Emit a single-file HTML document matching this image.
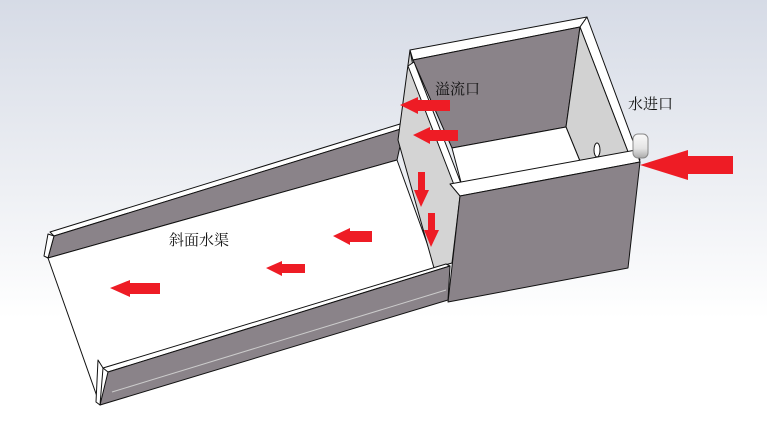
<!DOCTYPE html>
<html><head><meta charset="utf-8"><style>
html,body{margin:0;padding:0}
body{width:767px;height:425px;overflow:hidden;background:linear-gradient(180deg,#d6dbe6 0%,#eef0f4 45%,#ffffff 75%)}
svg{position:absolute;left:0;top:0}
text{font-family:"Liberation Serif","Noto Serif CJK SC",serif;font-size:15px;fill:#111}
</style></head><body>
<svg width="767" height="425" viewBox="0 0 767 425">
<defs><linearGradient id="p" x1="0" y1="0" x2="0" y2="1"><stop offset="0" stop-color="#fafafa"/><stop offset="0.6" stop-color="#e4e4e4"/><stop offset="1" stop-color="#aaa"/></linearGradient></defs>
<g stroke="#111" stroke-width="1" stroke-linejoin="round">
<polygon points="50,232 400,124 404,128 54,236" fill="#fff"/>
<polygon points="54,236 404,128 397,160 48,258" fill="#8a8389"/>
<polygon points="48,234 54,236 48,258 44,256" fill="#fff"/>
<polygon points="48,258 397,160 436,268 100,405" fill="#fff"/>
<polygon points="410,50 398,140 434,268 452,263 460,196 413,66" fill="#d4d4d4"/>
<polygon points="410,50 587,17 580,27 413,60" fill="#fff"/>
<polygon points="413,60 580,27 566,127 452,148" fill="#8a8389"/>
<polygon points="580,27 587,17 640,160 630,157" fill="#fff"/>
<polygon points="580,27 630,157 582,166 566,127" fill="#d2d2d2"/>
<polygon points="452,148 566,127 582,166 462,186" fill="#fff"/>
<polygon points="408,66 414,62 462,186 456,190" fill="#fff"/>
<polygon points="450,184 636,150 640,162 460,196" fill="#fff"/>
<polygon points="460,196 640,162 628,268 448,302" fill="#8a8389"/>
<polygon points="103,368 446,264 450,266 108,372" fill="#fff"/>
<polygon points="108,372 450,266 448,300 100,405" fill="#8a8389"/>
<polygon points="98,360 103,368 100,405 96,402" fill="#fff"/>
<line x1="112" y1="392" x2="446" y2="290" stroke="#ccc"/>
<rect x="633" y="134" width="15" height="24" rx="5" fill="url(#p)" stroke="#888"/>
<ellipse cx="597" cy="150" rx="3" ry="7" fill="#fff"/>
</g>
<g fill="#ee1c25">
<polygon points="400,105 418,97 418,100 450,100 450,111 418,111 418,114"/>
<polygon points="413,135 430,127 430,130 458,130 458,141 430,141 430,144"/>
<polygon points="421,207 414,190 418,190 418,172 425,172 425,190 429,190"/>
<polygon points="431,247 424,230 428,230 428,213 435,213 435,230 439,230"/>
<polygon points="333,236 350,228 350,231 372,231 372,242 350,242 350,245"/>
<polygon points="266,268 282,261 282,264 305,264 305,273 282,273 282,276"/>
<polygon points="110,288 130,280 130,283 160,283 160,294 130,294 130,297"/>
<polygon points="640,165 688,150 688,156 733,156 733,174 688,174 688,180"/>
</g>
<text x="435" y="94">溢流口</text>
<text x="628" y="109">水进口</text>
<text x="169" y="245">斜面水渠</text>
</svg>
</body></html>
